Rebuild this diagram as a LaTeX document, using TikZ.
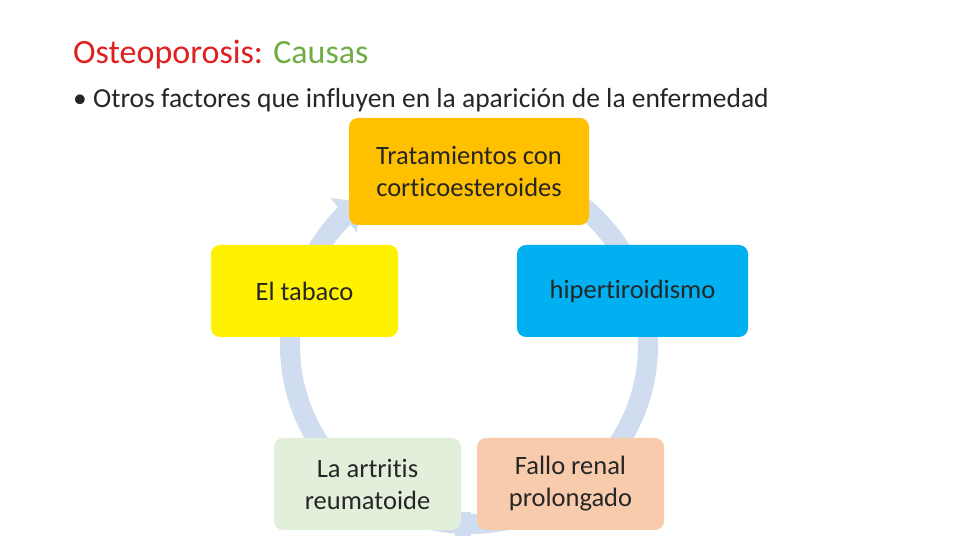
\documentclass[tikz,border=0pt]{standalone}
\usepackage{fontspec}
\setmainfont[Ligatures=NoCommon]{Carlito}
\usetikzlibrary{arrows.meta,calc}
\definecolor{tred}{HTML}{E02020}
\definecolor{tgreen}{HTML}{70AD47}
\definecolor{ring}{HTML}{D0DCEF}
\begin{document}
\begin{tikzpicture}[x=1pt,y=1pt,
  box/.style={rounded corners=9pt,inner sep=0pt,align=center,font=\fontsize{26.5}{32}\selectfont,text=black!85},
  seg/.style={draw=ring,line width=20pt}]
\useasboundingbox (0,0) rectangle (960,540);
\fill[white] (0,0) rectangle (960,540);
\node[anchor=base west,inner sep=0pt,font=\fontsize{34}{40}\selectfont] (t) at (73,476) {\textcolor{tred}{Osteoporosis:} \textcolor{tgreen}{Causas}};
\node[anchor=base west,inner sep=0pt,font=\fontsize{27.5}{32}\selectfont,text=black!85] (b) at (73,432) {• Otros factores que influyen en la aparición de la enfermedad};
\coordinate (c) at (469,195);
\draw[seg] (c) circle[radius=179];
\draw[seg,-{Triangle[length=22pt,width=42pt]}] ($(c)+(150:179)$) arc[start angle=150,end angle=127,radius=179];
\fill[ring] ($(c)+(-92:179)+(-8,-12)$) rectangle ++(16,24);
\node[box,fill={rgb,255:red,255;green,192;blue,0},minimum width=240pt,minimum height=107pt] (top) at (469,368.5) {Tratamientos con\\corticoesteroides};
\node[box,fill={rgb,255:red,0;green,176;blue,240},minimum width=231pt,minimum height=92pt] (right) at (632.5,249) {hipertiroidismo};
\node[box,fill=yellow,minimum width=187pt,minimum height=92pt] (left) at (304.5,249) {El tabaco};
\node[box,fill={rgb,255:red,226;green,239;blue,218},minimum width=187pt,minimum height=92pt] (bl) at (367.5,56) {La artritis\\reumatoide};
\node[box,fill={rgb,255:red,248;green,203;blue,173},minimum width=187pt,minimum height=92pt] (br) at (570.5,56) {Fallo renal\\prolongado};
\end{tikzpicture}
\end{document}
